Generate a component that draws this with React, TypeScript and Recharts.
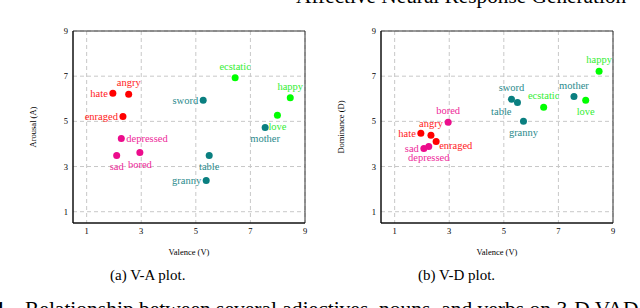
import { ScatterChart, Scatter, XAxis, YAxis, CartesianGrid, ReferenceArea } from 'recharts';

// words and their group
const words = ['hate', 'angry', 'enraged', 'depressed', 'sad', 'bored', 'ecstatic', 'happy', 'love', 'sword', 'table', 'granny', 'mother'];
const groups = ['anger', 'anger', 'anger', 'sad', 'sad', 'sad', 'joy', 'joy', 'joy', 'noun', 'noun', 'noun', 'noun'];

// V-A plot
const vaValence = [1.96, 2.54, 2.33, 2.27, 2.1, 2.95, 6.44, 8.46, 7.99, 5.27, 5.49, 5.38, 7.54];
const vaArousal = [6.24, 6.2, 5.22, 4.24, 3.49, 3.62, 6.93, 6.04, 5.27, 5.93, 3.49, 2.38, 4.73];

// V-D plot
const vdValence = [1.96, 2.33, 2.52, 2.25, 2.07, 2.96, 6.46, 8.49, 8.0, 5.28, 5.5, 5.72, 7.57];
const vdDominance = [4.47, 4.38, 4.11, 3.89, 3.8, 4.96, 5.62, 7.22, 5.93, 5.98, 5.84, 5.0, 6.1];

const ticks = [1, 3, 5, 7, 9];

const colors: Record<string, { dot: string; text: string }> = {
  anger: { dot: '#ff0000', text: '#ff1a1a' },
  sad: { dot: '#ec0c8c', text: '#ee2a9a' },
  joy: { dot: '#00ff00', text: '#33ee33' },
  noun: { dot: '#0a7f80', text: '#2a8a8c' },
};

// where each word's label sits relative to its dot
const vaLabelPos: Record<string, string> = {
  hate: 'left', angry: 'above', enraged: 'left', depressed: 'right', sad: 'below', bored: 'below',
  ecstatic: 'above', happy: 'above', love: 'below', sword: 'left', table: 'below', granny: 'left', mother: 'below',
};
const vdLabelPos: Record<string, string> = {
  hate: 'left', angry: 'above', enraged: 'se', depressed: 'below', sad: 'left', bored: 'above',
  ecstatic: 'above', happy: 'above', love: 'below', sword: 'above', table: 'sw', granny: 'below', mother: 'above',
};

const FONT = "'Liberation Serif', 'DejaVu Serif', serif";

function makeShape(pos: Record<string, string>, group: string) {
  const c = colors[group];
  return (props: any) => {
    const { cx, cy, payload } = props;
    const p = pos[payload.word];
    let x = cx;
    let y = cy + 3.5;
    let anchor: 'start' | 'middle' | 'end' = 'middle';
    if (p === 'left') { x = cx - 5; anchor = 'end'; }
    if (p === 'right') { x = cx + 5; anchor = 'start'; }
    if (p === 'above') { y = cy - 8; }
    if (p === 'below') { y = cy + 15; }
    if (p === 'se') { x = cx + 3; y = cy + 8; anchor = 'start'; }
    if (p === 'sw') { x = cx - 6; y = cy + 13; anchor = 'end'; }
    return (
      <g>
        <circle cx={cx} cy={cy} r={3.5} fill={c.dot} />
        <text x={x} y={y} textAnchor={anchor} fill={c.text} style={{ fontSize: 10.5, fontFamily: FONT }}>
          {payload.word}
        </text>
      </g>
    );
  };
}

function VadPlot({ xs, ys, pos, yLabel }: { xs: number[]; ys: number[]; pos: Record<string, string>; yLabel: string }) {
  const rows = words.map((w, i) => ({ word: w, group: groups[i], x: xs[i], y: ys[i] }));
  const tickStyle = { fill: '#000', fontSize: 8.5, style: { fontFamily: FONT } };
  return (
    <ScatterChart width={320} height={260} margin={{ top: 31, right: 15, bottom: 0, left: 33 }}>
      <CartesianGrid stroke="#c8c8c8" strokeDasharray="4 3" horizontalValues={ticks} verticalValues={ticks} />
      <XAxis
        type="number"
        dataKey="x"
        domain={[0.5, 9]}
        ticks={ticks}
        allowDataOverflow
        tickLine={false}
        tickSize={3}
        tickMargin={2}
        height={37}
        axisLine={{ stroke: '#000' }}
        tick={tickStyle}
        label={{ value: 'Valence (V)', position: 'insideBottom', offset: 5, fill: '#000', fontSize: 8.5, style: { fontFamily: FONT } }}
      />
      <YAxis
        type="number"
        dataKey="y"
        domain={[0.5, 9]}
        ticks={ticks}
        allowDataOverflow
        tickLine={false}
        tickSize={3}
        tickMargin={2}
        width={40}
        axisLine={{ stroke: '#000' }}
        tick={tickStyle}
        label={{ value: yLabel, angle: -90, position: 'insideLeft', offset: 0, fill: '#000', fontSize: 8.5, style: { textAnchor: 'middle', fontFamily: FONT } }}
      />
      <ReferenceArea x1={0.5} x2={9} y1={0.5} y2={9} fill="none" stroke="#333" strokeWidth={1} ifOverflow="visible" />
      {Object.keys(colors).map((g) => (
        <Scatter
          key={g}
          data={rows.filter((r) => r.group === g)}
          fill={colors[g].dot}
          shape={makeShape(pos, g)}
          isAnimationActive={false}
        />
      ))}
    </ScatterChart>
  );
}

export default function App() {
  return (
    <div style={{ position: 'absolute', left: 0, top: 0, width: 640, height: 308, overflow: 'hidden', background: '#fff', fontFamily: FONT, color: '#000' }}>
      <div style={{ position: 'absolute', left: 296, top: -16, fontSize: 21.3, lineHeight: '24px', whiteSpace: 'nowrap' }}>
        Affective Neural Response Generation
      </div>
      <div style={{ position: 'absolute', left: 0, top: 0 }}>
        <VadPlot xs={vaValence} ys={vaArousal} pos={vaLabelPos} yLabel="Arousal (A)" />
      </div>
      <div style={{ position: 'absolute', left: 308, top: 0 }}>
        <VadPlot xs={vdValence} ys={vdDominance} pos={vdLabelPos} yLabel="Dominance (D)" />
      </div>
      <div style={{ position: 'absolute', left: 110, top: 267, fontSize: 15, whiteSpace: 'nowrap' }}>(a) V-A plot.</div>
      <div style={{ position: 'absolute', left: 418, top: 267, fontSize: 15, whiteSpace: 'nowrap' }}>(b) V-D plot.</div>
      <div style={{ position: 'absolute', right: 629, top: 297, fontSize: 21.5, lineHeight: '24px', fontWeight: 'bold', whiteSpace: 'nowrap' }}>Figure 1.</div>
      <div style={{ position: 'absolute', left: 25, top: 297, fontSize: 21.5, lineHeight: '24px', whiteSpace: 'nowrap' }}>
        Relationship between several adjectives, nouns, and verbs on 3-D VAD
      </div>
    </div>
  );
}
